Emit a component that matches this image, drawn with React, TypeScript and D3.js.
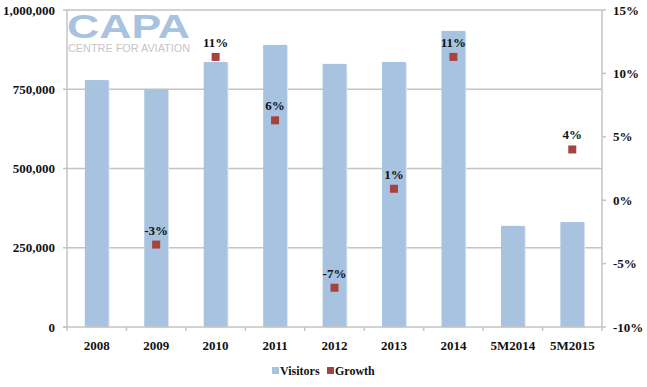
import * as d3 from 'd3';

const categories = ['2008', '2009', '2010', '2011', '2012', '2013', '2014', '5M2014', '5M2015'];
const visitors = [779000, 751000, 836000, 890000, 830000, 836000, 934000, 319000, 331000];
const growth: (number | null)[] = [null, -3.5, 11.3, 6.3, -6.9, 0.9, 11.3, null, 4.0];
const growthLabels = ['', '-3%', '11%', '6%', '-7%', '1%', '11%', '', '4%'];
const leftTicks = [0, 250000, 500000, 750000, 1000000];
const rightTicks = [-10, -5, 0, 5, 10, 15];

const W = 647;
const H = 387;
const margin = { top: 10, right: 45, bottom: 60, left: 67 };
const font = '"Liberation Serif", "DejaVu Serif", serif';
const barColor = '#a7c3df';
const markColor = '#a8423f';
const gridColor = '#c4c4c4';

export default function App() {
  const x = d3.scaleBand().domain(categories).range([margin.left, W - margin.right]).paddingInner(0.6).paddingOuter(0.3);
  const y = d3.scaleLinear().domain([0, 1000000]).range([H - margin.bottom, margin.top]);
  const y2 = d3.scaleLinear().domain([-10, 15]).range([H - margin.bottom, margin.top]);
  const bottom = H - margin.bottom;
  const right = W - margin.right;
  const step = x.step();
  const fmt = d3.format(',');

  return (
    <svg width={W} height={H} style={{ position: 'absolute', left: 0, top: 0, background: '#fff' }}>
      {/* logo */}
      <text x={67} y={38} fontFamily='"Liberation Sans", Arial, sans-serif' fontWeight="bold" fontSize={33} fill={barColor} textLength={123} lengthAdjust="spacingAndGlyphs">CAPA</text>
      <text x={68} y={52} fontFamily='"Liberation Sans", Arial, sans-serif' fontSize={11} fill="#c6c6c6" textLength={122} lengthAdjust="spacingAndGlyphs">CENTRE FOR AVIATION</text>

      {/* grid */}
      {leftTicks.filter(t => t > 0).map(t => (
        <line key={t} x1={margin.left} x2={right} y1={y(t)} y2={y(t)} stroke={gridColor} strokeWidth={1.5} />
      ))}

      {/* bars */}
      {categories.map((c, i) => (
        <g key={c}>
          <rect x={x(c)! + 1} y={y(visitors[i]) + 1} width={x.bandwidth()} height={bottom - y(visitors[i])} fill="#dfe6ee" />
          <rect x={x(c)!} y={y(visitors[i])} width={x.bandwidth()} height={bottom - y(visitors[i])} fill={barColor} />
        </g>
      ))}

      {/* axes */}
      <line x1={margin.left} x2={margin.left} y1={margin.top} y2={bottom + 4} stroke={gridColor} strokeWidth={1.5} />
      <line x1={right} x2={right} y1={margin.top} y2={bottom} stroke={gridColor} strokeWidth={1.5} />
      <line x1={margin.left - 4} x2={right} y1={bottom} y2={bottom} stroke={gridColor} strokeWidth={1.5} />
      {categories.map((c, i) => (
        <line key={c} x1={margin.left + step * (i + 1)} x2={margin.left + step * (i + 1)} y1={bottom} y2={bottom + 4} stroke={gridColor} strokeWidth={1.5} />
      ))}
      {rightTicks.map(t => (
        <line key={t} x1={right} x2={right + 4} y1={y2(t)} y2={y2(t)} stroke={gridColor} strokeWidth={1.5} />
      ))}
      {leftTicks.map(t => (
        <line key={t} x1={margin.left - 4} x2={margin.left} y1={y(t)} y2={y(t)} stroke={gridColor} strokeWidth={1.5} />
      ))}

      {/* left labels */}
      {leftTicks.map(t => (
        <text key={t} x={55} y={y(t)} dy="0.35em" textAnchor="end" fontFamily={font} fontWeight="bold" fontSize={13} fill="#111">{fmt(t)}</text>
      ))}
      {/* right labels */}
      {rightTicks.map(t => (
        <text key={t} x={613} y={y2(t)} dy="0.35em" fontFamily={font} fontWeight="bold" fontSize={13} fill="#111">{t}%</text>
      ))}
      {/* x labels */}
      {categories.map(c => (
        <text key={c} x={x(c)! + x.bandwidth() / 2} y={350} textAnchor="middle" fontFamily={font} fontWeight="bold" fontSize={13} fill="#111">{c}</text>
      ))}

      {/* growth markers */}
      {categories.map((c, i) => growth[i] == null ? null : (
        <g key={c}>
          <rect x={x(c)! + x.bandwidth() / 2 - 4} y={y2(growth[i]!) - 4} width={8} height={8} fill={markColor} />
          <text x={x(c)! + x.bandwidth() / 2} y={y2(growth[i]!) - 10} textAnchor="middle" fontFamily={font} fontWeight="bold" fontSize={13} fill="#111">{growthLabels[i]}</text>
        </g>
      ))}

      {/* legend */}
      <rect x={272} y={367} width={7} height={7} fill={barColor} />
      <text x={280} y={375} fontFamily={font} fontWeight="bold" fontSize={12} fill="#111">Visitors</text>
      <rect x={327} y={367} width={7} height={7} fill={markColor} />
      <text x={335} y={375} fontFamily={font} fontWeight="bold" fontSize={12} fill="#111">Growth</text>
    </svg>
  );
}
